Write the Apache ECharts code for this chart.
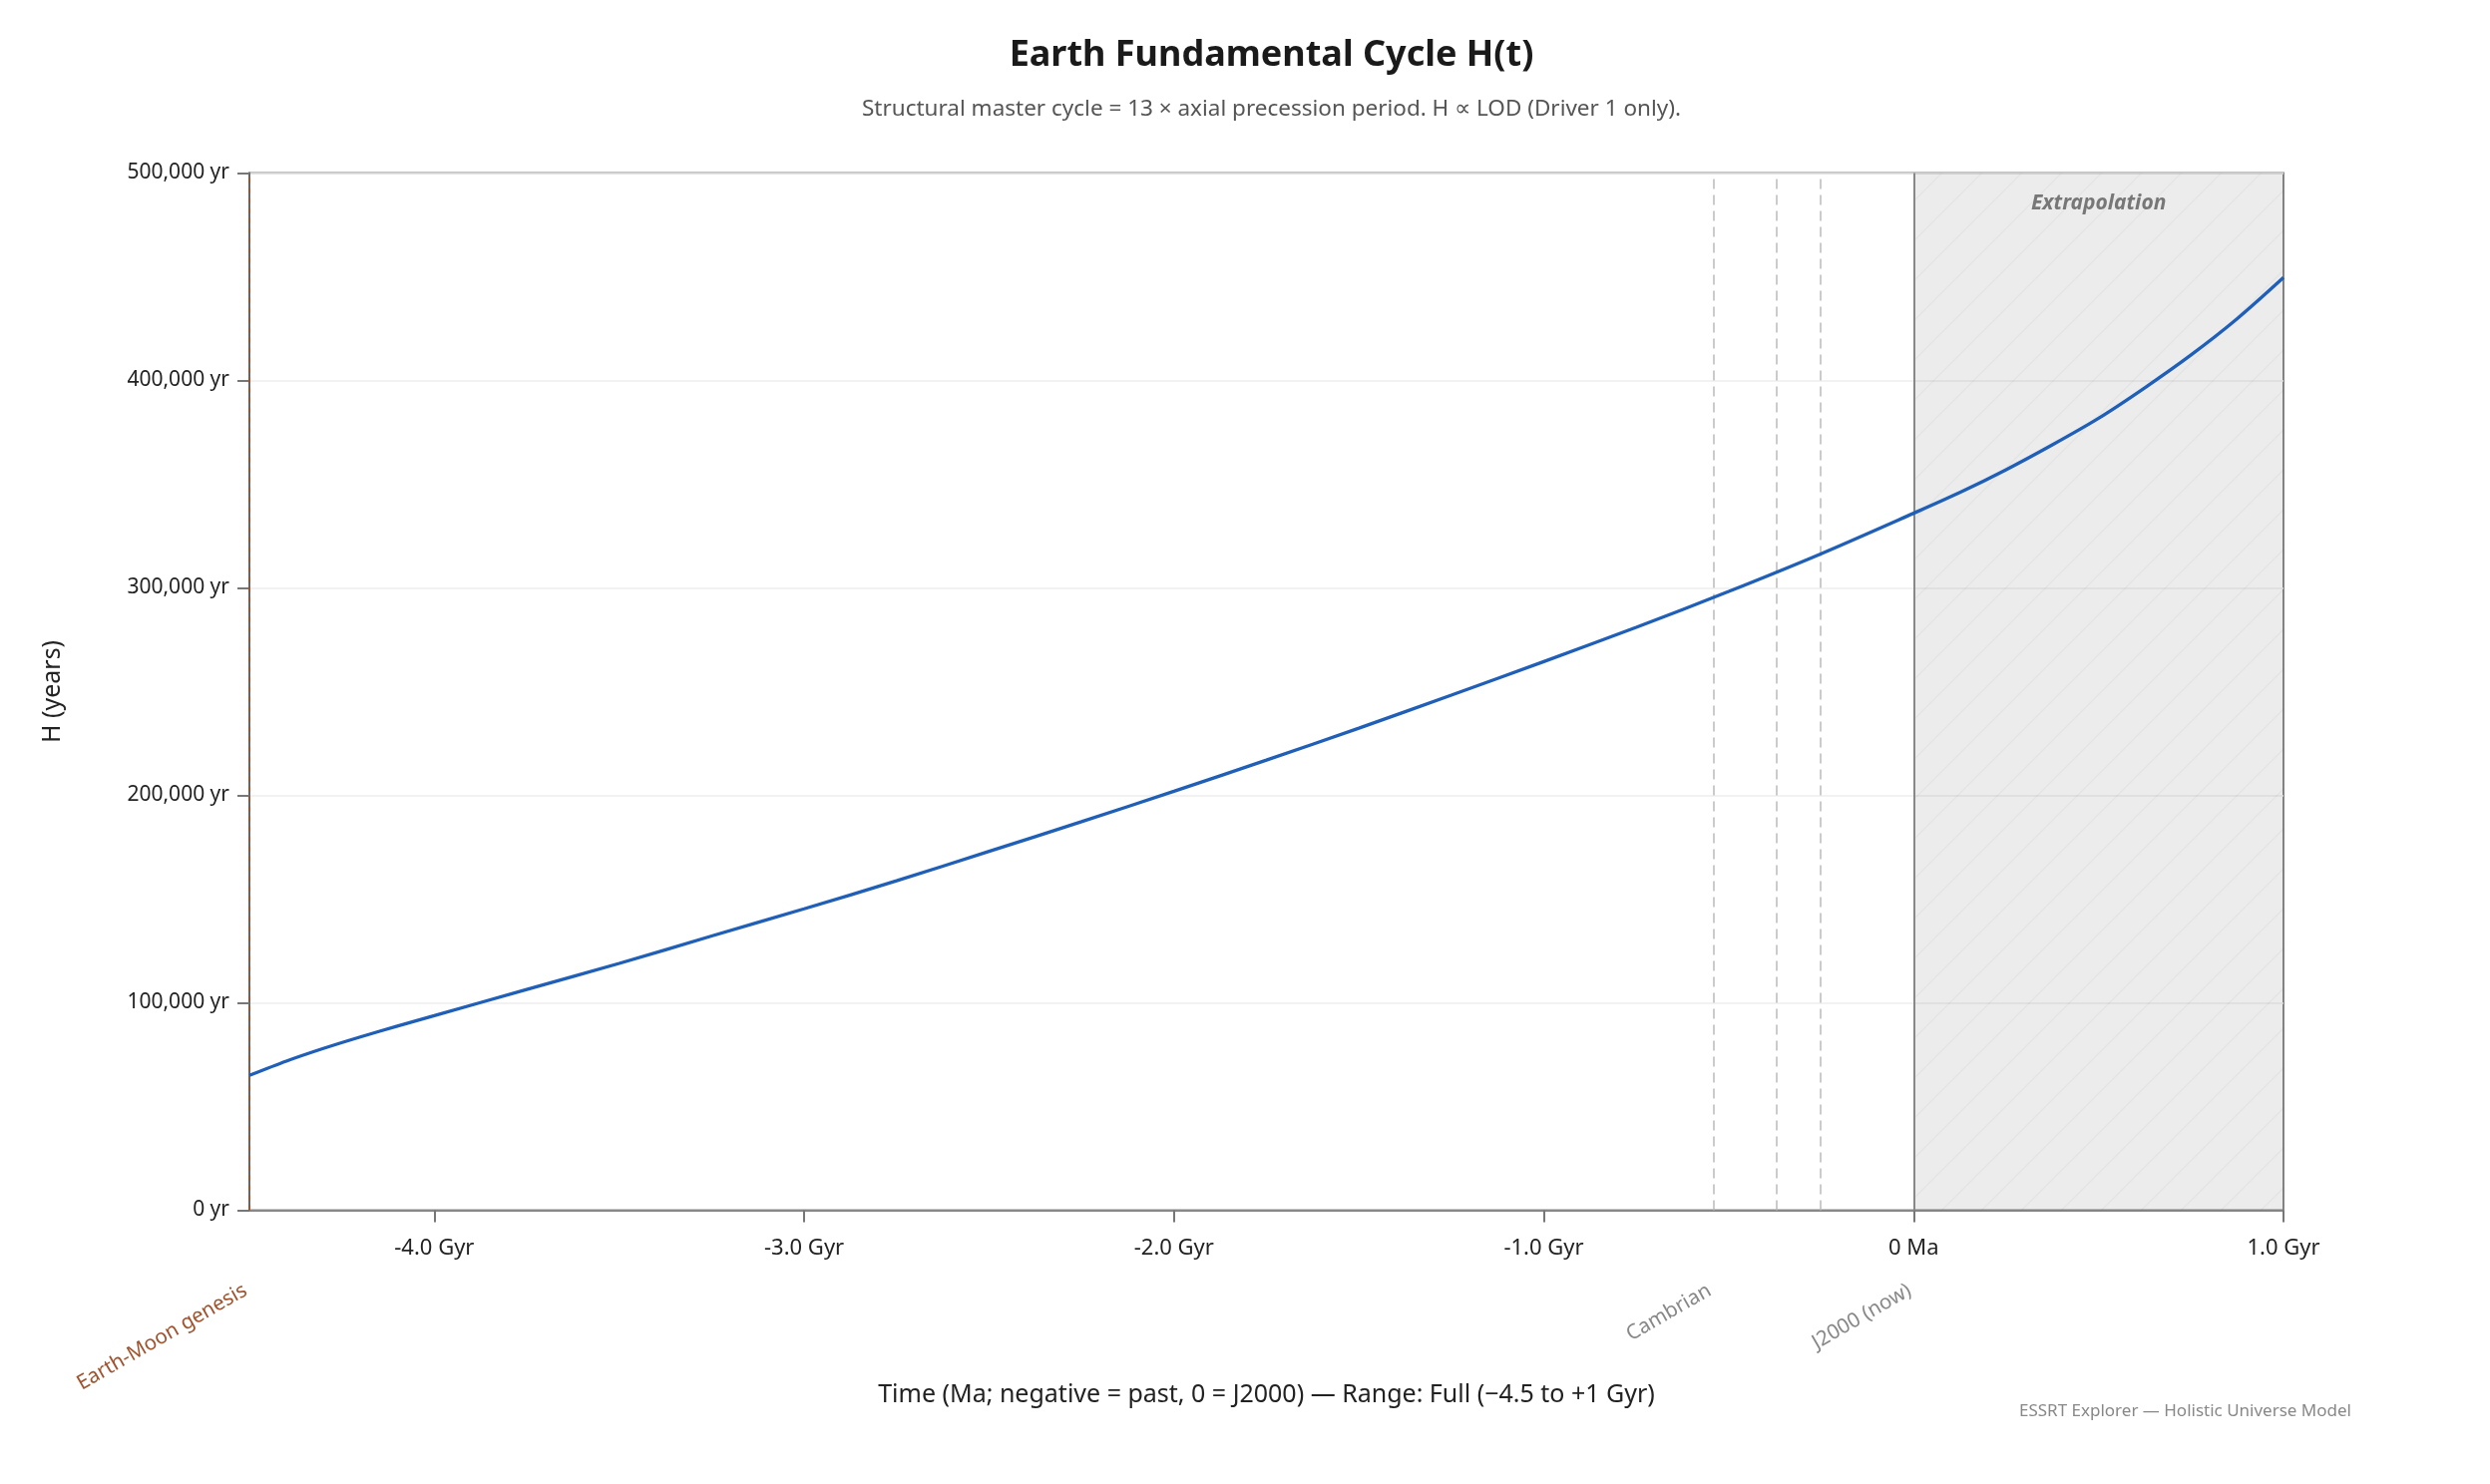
<!DOCTYPE html>
<html>
<head>
<meta charset="utf-8">
<script src="https://cdn.jsdelivr.net/npm/echarts@6/dist/echarts.min.js"></script>
<style>html,body{margin:0;padding:0;background:#fff}#c{width:2496px;height:1488px}</style>
</head>
<body>
<div id="c"></div>
<script>
// ---- data (time in Ma, negative = past; H in years) ----
const timeMa = [-4500,-4400,-4300,-4200,-4100,-4000,-3750,-3500,-3250,-3000,-2750,-2500,-2250,-2000,-1750,-1500,-1250,-1000,-750,-500,-250,0,125,250,375,500,625,750,875,1000];
const H = [65000,71900,78000,83550,88750,93800,106450,119000,132200,145300,158800,173000,187300,202000,217000,232400,248300,264500,281000,298300,316500,336000,346000,357000,369000,381800,396500,412300,429800,449600];
const xTickValues = [-4000,-3000,-2000,-1000,0,1000];
const markerTimes = [-4500,-541,-372,-252,0];
const markerLabels = ['Earth-Moon genesis','Cambrian','','','J2000 (now)'];
const extrapolationRange = [0,1000];

const FONT = '"Noto Sans", "Open Sans", sans-serif';
const chart = echarts.init(document.getElementById('c'), null, {renderer:'canvas'});

// hatch pattern for extrapolation
const pc = document.createElement('canvas'); pc.width = 40; pc.height = 40;
const g = pc.getContext('2d');
g.fillStyle = 'rgba(0,0,0,0.075)'; g.fillRect(0,0,40,40);
g.strokeStyle = 'rgba(0,0,0,0.035)'; g.lineWidth = 1.5;
g.beginPath(); g.moveTo(0,40); g.lineTo(40,0); g.moveTo(-10,10); g.lineTo(10,-10); g.moveTo(30,50); g.lineTo(50,30); g.stroke();

const markerStyles = [
  {color:'#a0522d', type:[5,5], width:2},
  {color:'#bbbbbb', type:[10,6], width:1.5},
  {color:'#bbbbbb', type:[10,6], width:1.5},
  {color:'#bbbbbb', type:[10,6], width:1.5},
  {color:'#888888', type:'solid', width:2}
];
const labelColors = ['#a0522d','#888888','#888888','#888888','#888888'];

const option = {
  animation: false,
  backgroundColor: '#ffffff',
  title: {
    text: 'Earth Fundamental Cycle H(t)',
    subtext: 'Structural master cycle = 13 × axial precession period. H ∝ LOD (Driver 1 only).',
    left: 1269.5, textAlign: 'center', top: 29,
    itemGap: 18,
    textStyle: {fontFamily: FONT, fontSize: 36, fontWeight: 'bold', color: '#1a1a1a', lineHeight: 44},
    subtextStyle: {fontFamily: FONT, fontSize: 22.5, color: '#555555', lineHeight: 28}
  },
  grid: {left: 250, right: 207, top: 173.5, bottom: 274.5, show: true, borderColor: '#888888', borderWidth: 2, backgroundColor: 'transparent'},
  xAxis: {
    type: 'value', min: -4500, max: 1000, interval: 500,
    name: 'Time (Ma; negative = past, 0 = J2000) — Range: Full (−4.5 to +1 Gyr)',
    nameLocation: 'middle', nameGap: 173,
    nameTextStyle: {fontFamily: FONT, fontSize: 25, color: '#222222'},
    axisLine: {show: true, onZero: false, lineStyle: {color: '#888888', width: 2}},
    axisTick: {show: true, length: 12, customValues: xTickValues, lineStyle: {color: '#777777', width: 2}},
    axisLabel: {customValues: xTickValues, margin: 27, fontFamily: FONT, fontSize: 22, color: '#222222',
      formatter: v => v === 0 ? '0 Ma' : (v/1000).toFixed(1) + ' Gyr'},
    splitLine: {show: false}
  },
  yAxis: {
    type: 'value', min: 0, max: 500000, interval: 100000,
    name: 'H (years)', nameLocation: 'middle', nameGap: 185,
    nameTextStyle: {fontFamily: FONT, fontSize: 25, color: '#222222'},
    axisLine: {show: true, onZero: false, lineStyle: {color: '#666666', width: 2}},
    axisTick: {show: true, length: 12, lineStyle: {color: '#777777', width: 2}},
    axisLabel: {margin: 20, fontFamily: FONT, fontSize: 21, color: '#222222',
      formatter: v => v.toLocaleString('en-US') + ' yr'},
    splitLine: {show: true, lineStyle: {color: '#eeeeee', width: 1.5}}
  },
  series: [{
    type: 'line',
    data: timeMa.map((t,i) => [t, H[i]]),
    showSymbol: false, smooth: 0.3,
    lineStyle: {color: '#1f5fb8', width: 3.3},
    itemStyle: {color: '#1f5fb8'},
    z: 5,
    markArea: {
      silent: true,
      itemStyle: {color: {image: pc, repeat: 'repeat'}},
      label: {show: true, position: 'insideTop', distance: 20, fontFamily: FONT, fontSize: 21,
        fontStyle: 'italic', fontWeight: 'bold', color: '#777777'},
      data: [[{name: 'Extrapolation', xAxis: extrapolationRange[0]}, {xAxis: extrapolationRange[1]}]]
    },
    markLine: {
      silent: true, symbol: 'none', label: {show: false},
      data: markerTimes.map((t,i) => ({xAxis: t, lineStyle: markerStyles[i]}))
    }
  }]
};
chart.setOption(option);

const graphics = [];
markerTimes.forEach((t,i) => {
  if (!markerLabels[i]) return;
  const p = chart.convertToPixel({gridIndex: 0}, [t, 0]);
  graphics.push({
    type: 'text', x: p[0] - 4, y: p[1] + 79, rotation: Math.PI/6, z: 10,
    style: {text: markerLabels[i], align: 'right', verticalAlign: 'middle',
      fill: labelColors[i], fontSize: 20.5, fontFamily: FONT}
  });
});
graphics.push({
  type: 'text', right: 2496 - 2357, top: 1407, z: 10,
  style: {text: 'ESSRT Explorer — Holistic Universe Model', fill: '#888888', fontSize: 17, fontFamily: FONT}
});
chart.setOption({graphic: graphics});
</script>
</body>
</html>
